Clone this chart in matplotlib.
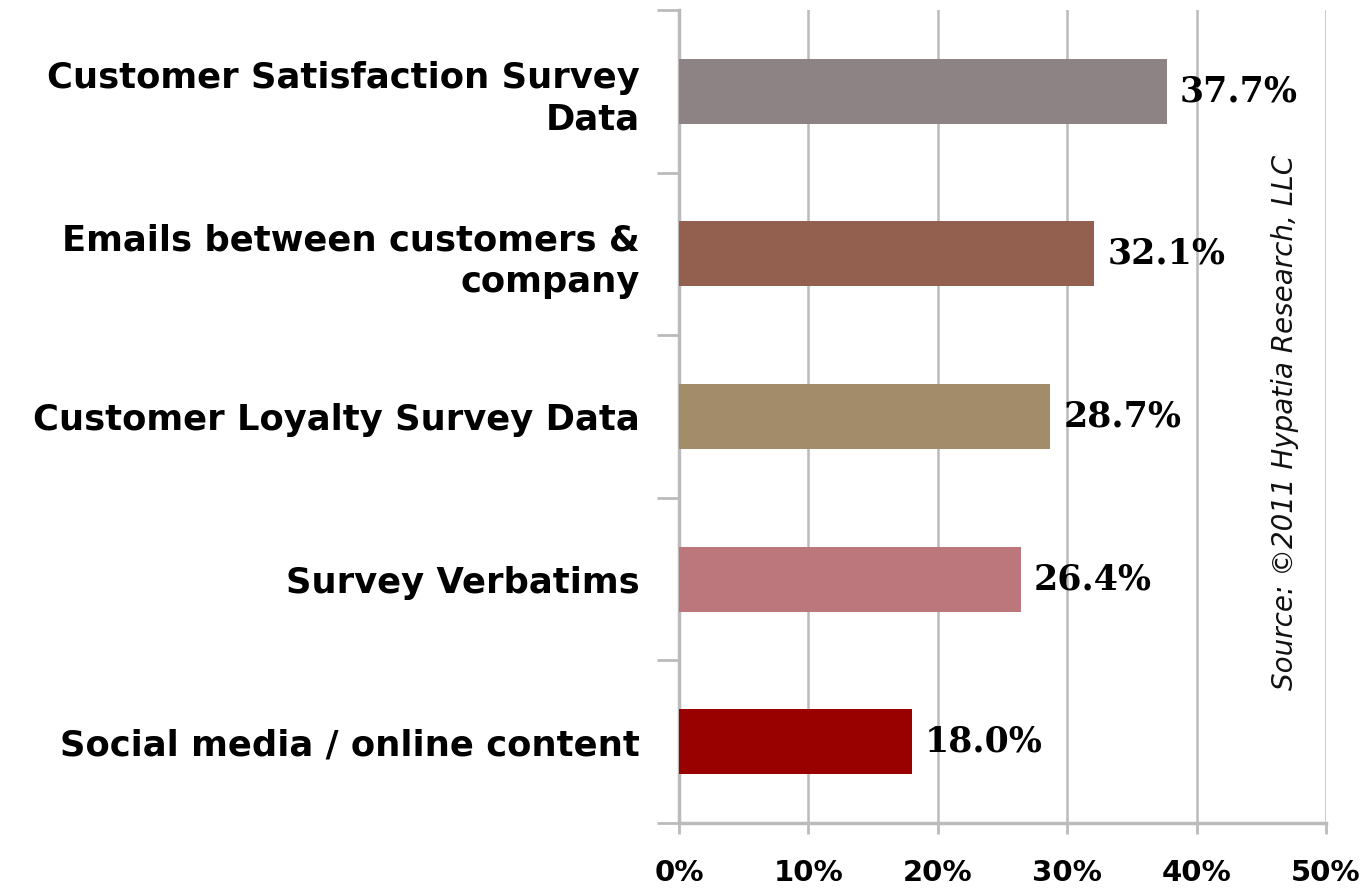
import matplotlib
matplotlib.use("Agg")
import matplotlib.pyplot as plt
from matplotlib.ticker import PercentFormatter, FixedLocator

categories = ["Customer Satisfaction Survey\nData",
              "Emails between customers &\ncompany",
              "Customer Loyalty Survey Data",
              "Survey Verbatims",
              "Social media / online content"]
values = [37.7, 32.1, 28.7, 26.4, 18.0]
colors = ["#8E8384", "#93604F", "#A38C6A", "#BC777C", "#990000"]
xticks = [0, 10, 20, 30, 40, 50]
source = "Source: \u00a92011 Hypatia Research, LLC"

fig = plt.figure(figsize=(13.71, 8.93), dpi=100)
ax = fig.add_axes([679/1371, 1-823/893, (1326-679)/1371, (823-10)/893])

pos = list(range(len(categories)))[::-1]
ax.barh(pos, values, height=0.4, color=colors, zorder=3)
for p, v in zip(pos, values):
    ax.text(v + 1.0, p, f"{v:.1f}%", va="center", ha="left",
            fontsize=25, fontweight="bold", family="DejaVu Serif", zorder=4)

ax.set_xlim(0, 50)
ax.set_ylim(-0.5, len(categories) - 0.5)
ax.set_xticks(xticks)
ax.xaxis.set_major_formatter(PercentFormatter(decimals=0))
ax.grid(axis="x", color="#BBBBBB", lw=1.8, zorder=0)
ax.tick_params(axis="x", length=8, width=2, color="#BBBBBB", pad=18, labelsize=21)
for lab in ax.get_xticklabels():
    lab.set_fontweight("bold")

ax.set_yticks(pos)
ax.set_yticklabels(categories, fontsize=25.5, fontweight="bold", ha="right", ma="right",
                   linespacing=1.3)
ax.yaxis.set_minor_locator(FixedLocator([i - 0.5 for i in range(len(categories) + 1)]))
ax.tick_params(axis="y", which="major", length=0, pad=28)
ax.tick_params(axis="y", which="minor", length=16, width=2, color="#BBBBBB")

for s in ["top", "right"]:
    ax.spines[s].set_visible(False)
for s in ["left", "bottom"]:
    ax.spines[s].set_color("#BBBBBB")
    ax.spines[s].set_linewidth(2.5)

fig.text(1285/1371, 1-422/893, source, rotation=90, va="center", ha="center",
         fontsize=20, style="italic", color="#111111")

fig.savefig("out.png", dpi=100)
